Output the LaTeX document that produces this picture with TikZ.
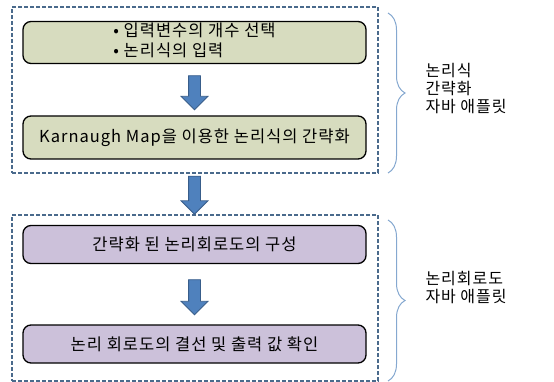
\documentclass[tikz,border=0pt]{standalone}
\usepackage{fontspec}
\setmainfont[LetterSpace=6]{Noto Sans CJK KR}
\usetikzlibrary{positioning,shapes.arrows,decorations.pathreplacing}

\definecolor{stepgreen}{HTML}{D7DCBF}
\definecolor{steppurple}{HTML}{CCC1DA}
\definecolor{groupblue}{HTML}{4A6A8C}
\definecolor{arrowblue}{HTML}{4F81BD}
\definecolor{arrowedge}{HTML}{385D8A}
\definecolor{braceblue}{HTML}{85A8D0}

\begin{document}
\begin{tikzpicture}[x=1pt,y=-1pt,
  font=\fontsize{16.5}{20}\selectfont,
  stepbox/.style={draw=black,line width=1.3pt,rounded corners=8pt,
    minimum width=343pt,inner sep=0pt,align=center},
  groupbox/.style={draw=groupblue,line width=1.2pt,dash pattern=on 4pt off 2pt,
    minimum width=366pt,minimum height=166pt},
  flow/.style={single arrow,draw=arrowedge,fill=arrowblue,line width=0.8pt,
    rotate=-90,minimum height=34pt,inner sep=5.5pt,single arrow head extend=7.5pt},
  sidebrace/.style={draw=braceblue,line width=1pt,decorate,
    decoration={brace,amplitude=17pt}},
  side/.style={anchor=west,align=left,font=\fontsize{16}{18}\selectfont}
  ]
  \useasboundingbox (0,0) rectangle (554,382);

  % groups
  \node[groupbox] (grp1) at (195,90) {};
  \node[groupbox] (grp2) at (195,298) {};

  % steps
  \node[stepbox,fill=stepgreen,minimum height=42pt] (input) at (194.5,42.5)
    {\begin{tabular}{@{}l@{}}• 입력변수의 개수 선택\\• 논리식의 입력\end{tabular}};
  \node[stepbox,fill=stepgreen,minimum height=43pt] (kmap) at (194.5,137.5)
    {Karnaugh Map을 이용한 논리식의 간략화};
  \node[stepbox,fill=steppurple,minimum height=38pt] (build) at (194.5,244.5)
    {간략화 된 논리회로도의 구성};
  \node[stepbox,fill=steppurple,minimum height=38pt] (check) at (194.5,344)
    {논리 회로도의 결선 및 출력 값 확인};

  % arrows
  \path (input) -- node[flow] (a1) {} (kmap);
  \path (kmap) -- node[flow,minimum height=38pt] (a2) {} (build);
  \path (build) -- node[flow,minimum height=35pt] (a3) {} (check);

  % braces
  \coordinate (b1top) at (388,13);
  \coordinate (b1bot) at (388,173);
  \coordinate (b2top) at (388,220);
  \coordinate (b2bot) at (388,381);
  \draw[sidebrace] (b1top) -- (b1bot);
  \draw[sidebrace] (b2top) -- (b2bot);

  \node[side] (lab1) at (422,89) {논리식\\간략화\\자바 애플릿};
  \node[side] (lab2) at (422,288) {논리회로도\\자바 애플릿};
\end{tikzpicture}
\end{document}
